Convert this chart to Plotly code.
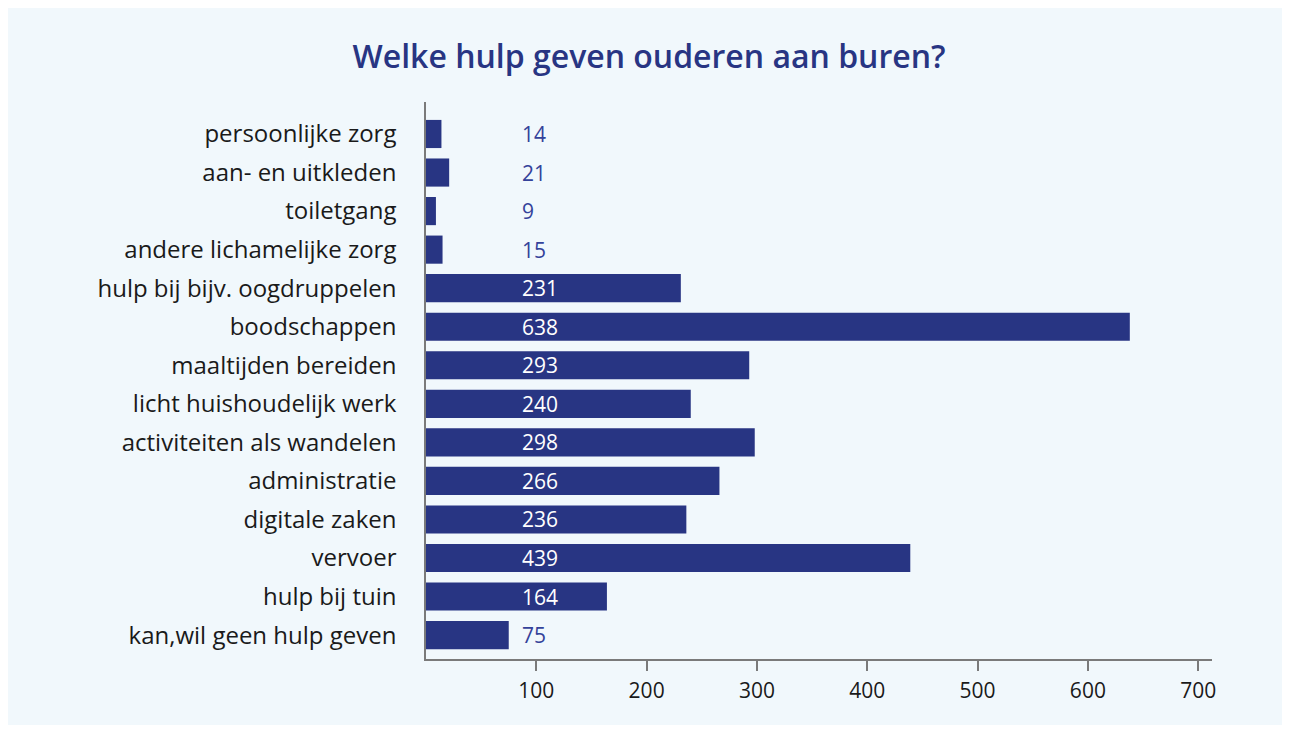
import plotly.graph_objects as go

categories = [
    "persoonlijke zorg", "aan- en uitkleden", "toiletgang", "andere lichamelijke zorg",
    "hulp bij bijv. oogdruppelen", "boodschappen", "maaltijden bereiden",
    "licht huishoudelijk werk", "activiteiten als wandelen", "administratie",
    "digitale zaken", "vervoer", "hulp bij tuin", "kan,wil geen hulp geven",
]
values = [14, 21, 9, 15, 231, 638, 293, 240, 298, 266, 236, 439, 164, 75]
tick_vals = [100, 200, 300, 400, 500, 600, 700]

NAVY = "#283583"
LABEL_X = 85

# page body adds an 8px margin; lay out in page pixels minus that offset
OFF = 8
FW, FH = 1290 - OFF, 731 - OFF
L, R, T, B = 426 - OFF, 1212 - OFF, 102 - OFF, 659 - OFF
W, H = R - L, B - T

fig = go.Figure()
fig.add_trace(go.Bar(
    x=values, y=categories, orientation="h",
    marker=dict(color=NAVY, line=dict(width=0)),
    hoverinfo="x+y",
))

for c, v in zip(categories, values):
    fig.add_annotation(
        x=LABEL_X, y=c, xref="x", yref="y", text=str(v), showarrow=False,
        xanchor="left", yanchor="middle",
        font=dict(family="Open Sans", size=21, color="white" if v > 100 else "#34429a"),
    )

# light blue panel
fig.add_shape(type="rect", xref="paper", yref="paper",
              x0=(6 - OFF - L) / W, x1=(1284 - OFF - L) / W,
              y0=(B - (725 - OFF)) / H, y1=(B - (6 - OFF)) / H,
              fillcolor="#f1f8fc", line=dict(width=0), layer="below")

fig.update_layout(
    width=FW, height=FH,
    paper_bgcolor="white", plot_bgcolor="rgba(0,0,0,0)",
    margin=dict(l=L, r=FW - R, t=T, b=FH - B),
    bargap=0.27,
    showlegend=False,
    font=dict(family="Open Sans", color="#1a1a1a"),
    title=dict(text="Welke hulp geven ouderen aan buren?", x=(649 - OFF) / FW, xanchor="center",
               y=1 - (57 - OFF) / FH, yanchor="middle", yref="container",
               font=dict(family="Open Sans", size=32, color=NAVY, weight=600)),
    xaxis=dict(range=[0, 712.5], tickvals=tick_vals, showgrid=False, zeroline=False,
               showline=True, linecolor="#7a7a7a", linewidth=1.5,
               ticks="outside", ticklen=10, tickcolor="#7a7a7a", tickwidth=1.5,
               tickfont=dict(family="Open Sans", size=21, color="#1a1a1a"),
               ticklabelstandoff=2),
    yaxis=dict(categoryorder="array", categoryarray=categories,
               range=[13.62, -0.83], showgrid=False, zeroline=False,
               showline=True, linecolor="#7a7a7a", linewidth=1.5, ticks="",
               tickfont=dict(family="Open Sans", size=24, color="#1a1a1a"),
               ticklabelstandoff=23),
)

fig.write_html("out.html")
